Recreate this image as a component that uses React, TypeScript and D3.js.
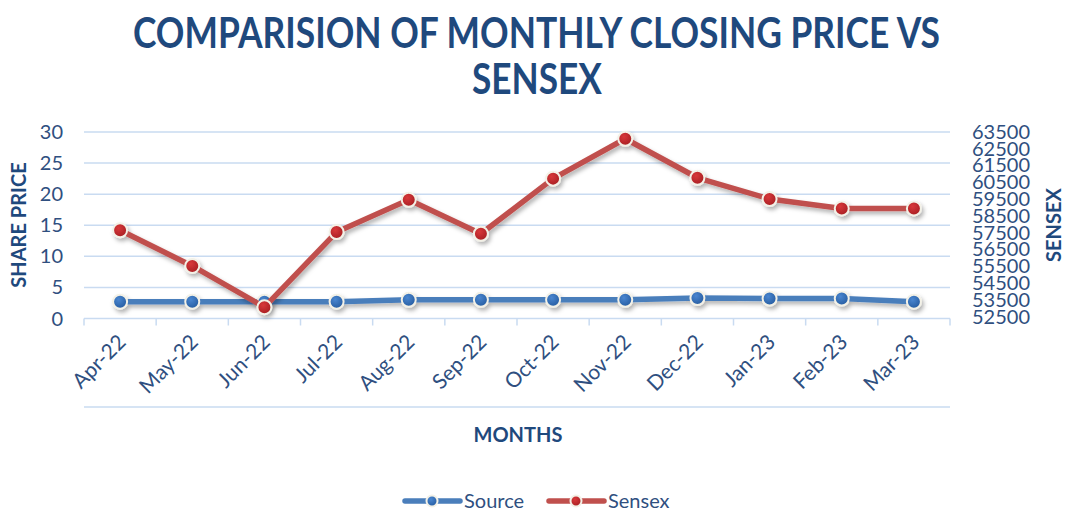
import React from "react";
import * as d3 from "d3";

const months = ["Apr-22","May-22","Jun-22","Jul-22","Aug-22","Sep-22","Oct-22","Nov-22","Dec-22","Jan-23","Feb-23","Mar-23"];
const sourcePrice = [2.7,2.7,2.7,2.7,3.0,3.0,3.0,3.0,3.3,3.2,3.2,2.7];
const sensexValues = [57700,55600,53170,57600,59500,57500,60750,63100,60800,59550,58990,58990];
const leftTicks = [0,5,10,15,20,25,30];
const rightTicks = [52500,53500,54500,55500,56500,57500,58500,59500,60500,61500,62500,63500];

const W = 1071, H = 512;
const plot = { left: 84, right: 950, top: 132, bottom: 318.5 };
const FONT = "Lato, 'Open Sans', sans-serif";
const TITLE_C = "#1F497D";
const TICK_C = "#2F4F80";
const GRID_C = "#C9DBF1";
const BLUE = "#4A7EBB";
const RED = "#C0504D";

export default function App() {
  const x = d3.scaleBand<string>().domain(months).range([plot.left, plot.right]);
  const yL = d3.scaleLinear().domain([0, 30]).range([plot.bottom, plot.top]);
  const yR = d3.scaleLinear().domain([52500, 63500]).range([plot.bottom, plot.top]);
  const cx = (m: string) => (x(m) as number) + x.bandwidth() / 2;

  const srcLine = d3.line<number>().x((_, i) => cx(months[i])).y(d => yL(d))(sourcePrice) as string;
  const senLine = d3.line<number>().x((_, i) => cx(months[i])).y(d => yR(d))(sensexValues) as string;

  const rightLabelYs = d3.scaleLinear().domain([0, rightTicks.length - 1]).range([316.7, 131.7]);

  return (
    <div style={{ position: "absolute", left: 0, top: 0 }}>
      <svg width={W} height={H} style={{ display: "block", background: "#fff" }}>
        <defs>
          <filter id="sh" x="-20%" y="-20%" width="140%" height="160%">
            <feDropShadow dx="2" dy="3" stdDeviation="2" floodColor="#000" floodOpacity="0.3" />
          </filter>
          <radialGradient id="gB" cx="40%" cy="35%" r="70%">
            <stop offset="0%" stopColor="#4A86D0" />
            <stop offset="100%" stopColor="#245A9E" />
          </radialGradient>
          <radialGradient id="gR" cx="40%" cy="35%" r="70%">
            <stop offset="0%" stopColor="#D8383A" />
            <stop offset="100%" stopColor="#A51E22" />
          </radialGradient>
        </defs>

        {/* Title */}
        <text x={536.5} y={48} textAnchor="middle" fontFamily={FONT} fontWeight={700} fontSize={42}
          fill={TITLE_C} textLength={807} lengthAdjust="spacingAndGlyphs">COMPARISION OF MONTHLY CLOSING PRICE VS</text>
        <text x={537} y={94} textAnchor="middle" fontFamily={FONT} fontWeight={700} fontSize={42}
          fill={TITLE_C} textLength={130} lengthAdjust="spacingAndGlyphs">SENSEX</text>

        {/* gridlines */}
        {leftTicks.map(t => (
          <line key={"g" + t} x1={plot.left} x2={plot.right} y1={yL(t)} y2={yL(t)} stroke={GRID_C} strokeWidth={1.5} />
        ))}
        {/* x tick marks */}
        {months.map((m, i) => (
          <line key={"t" + m} x1={x(m) as number} x2={x(m) as number} y1={plot.bottom} y2={plot.bottom + 7} stroke={GRID_C} strokeWidth={1.5} />
        ))}
        <line x1={plot.right} x2={plot.right} y1={plot.bottom} y2={plot.bottom + 7} stroke={GRID_C} strokeWidth={1.5} />
        <line x1={plot.left} x2={plot.right} y1={407} y2={407} stroke={GRID_C} strokeWidth={1.5} />

        {/* left tick labels */}
        {leftTicks.map(t => (
          <text key={"l" + t} x={63} y={yL(t)} dy="0.35em" textAnchor="end" fontFamily={FONT} fontSize={20} fill={TICK_C}>{t}</text>
        ))}
        {/* right tick labels */}
        {rightTicks.map((t, i) => (
          <text key={"r" + t} x={972} y={rightLabelYs(i)} dy="0.35em" textAnchor="start" fontFamily={FONT} fontSize={20} fill={TICK_C}>{t}</text>
        ))}

        {/* x labels */}
        {months.map(m => (
          <text key={"x" + m} transform={`translate(${cx(m) + 7},${plot.bottom + 25}) rotate(-45)`} textAnchor="end"
            fontFamily={FONT} fontSize={21} fill={TICK_C}>{m}</text>
        ))}

        {/* axis titles */}
        <text transform={`translate(26,225) rotate(-90)`} textAnchor="middle" fontFamily={FONT} fontWeight={700} fontSize={20} fill={TITLE_C}>SHARE PRICE</text>
        <text transform={`translate(1061,225) rotate(-90)`} textAnchor="middle" fontFamily={FONT} fontWeight={700} fontSize={20} fill={TITLE_C}>SENSEX</text>
        <text x={518} y={442} textAnchor="middle" fontFamily={FONT} fontWeight={700} fontSize={20} fill={TITLE_C}>MONTHS</text>

        {/* series */}
        <g filter="url(#sh)">
          <path d={srcLine} fill="none" stroke={BLUE} strokeWidth={5.5} strokeLinejoin="round" />
          {sourcePrice.map((v, i) => (
            <circle key={"sb" + i} cx={cx(months[i])} cy={yL(v)} r={7} fill="url(#gB)" stroke="#F3F1E7" strokeWidth={2} />
          ))}
        </g>
        <g filter="url(#sh)">
          <path d={senLine} fill="none" stroke={RED} strokeWidth={5.5} strokeLinejoin="round" />
          {sensexValues.map((v, i) => (
            <circle key={"sr" + i} cx={cx(months[i])} cy={yR(v)} r={7} fill="url(#gR)" stroke="#F3F1E7" strokeWidth={2} />
          ))}
        </g>

        {/* legend */}
        <g>
          <line x1={405} x2={460} y1={501} y2={501} stroke={BLUE} strokeWidth={5.5} strokeLinecap="round" />
          <circle cx={432} cy={501} r={5.5} fill="url(#gB)" stroke="#F3F1E7" strokeWidth={2} />
          <text x={464} y={501} dy="0.35em" fontFamily={FONT} fontSize={20} fill={TICK_C}>Source</text>
          <line x1={549} x2={604} y1={501} y2={501} stroke={RED} strokeWidth={5.5} strokeLinecap="round" />
          <circle cx={576} cy={501} r={5.5} fill="url(#gR)" stroke="#F3F1E7" strokeWidth={2} />
          <text x={608} y={501} dy="0.35em" fontFamily={FONT} fontSize={20} fill={TICK_C}>Sensex</text>
        </g>
      </svg>
    </div>
  );
}
